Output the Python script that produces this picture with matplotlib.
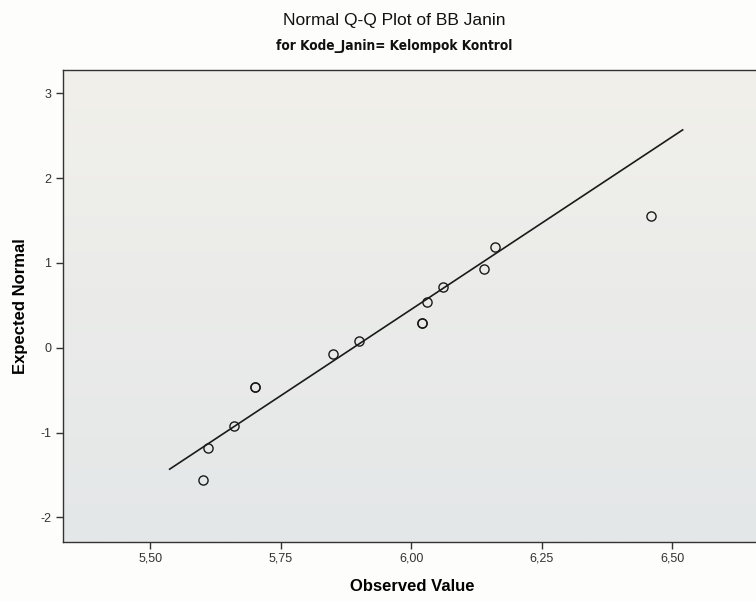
#!/usr/bin/env python3
"""Normal Q-Q plot of BB Janin for the control group (SPSS style)."""

import matplotlib as mpl

mpl.use("Agg")

import matplotlib.pyplot as plt
import numpy as np
from matplotlib.colors import LinearSegmentedColormap
from matplotlib.ticker import FuncFormatter

# observed values (kg) and their expected normal scores
observed = [5.60, 5.61, 5.66, 5.70, 5.85, 5.90, 6.02, 6.03, 6.06, 6.14, 6.16, 6.46]
expected = [-1.555, -1.184, -0.922, -0.459, -0.071, 0.078, 0.294, 0.539, 0.718, 0.929, 1.184, 1.555]
counts = [1, 1, 1, 2, 1, 1, 2, 1, 1, 1, 1, 1]

# reference line (normal fit)
line_x = [5.537, 6.520]
line_y = [-1.432, 2.568]

x_ticks = [5.50, 5.75, 6.00, 6.25, 6.50]
y_ticks = [-2, -1, 0, 1, 2, 3]

SANS = ["Liberation Sans", "DejaVu Sans"]
NARROW = ["Liberation Sans Narrow", "DejaVu Sans"]

plt.rcParams["font.family"] = SANS

fig = plt.figure(figsize=(7.56, 6.01), dpi=100, facecolor="#fdfdfb")
ax = fig.add_axes([0.0829, 0.0987, 0.925, 0.7848])

# soft vertical gradient like the SPSS chart area
grad = LinearSegmentedColormap.from_list("bg", ["#e4e7e8", "#f1f0eb"])
ax.imshow(
    np.linspace(0, 1, 256).reshape(-1, 1)[::-1],
    cmap=grad,
    extent=[0, 1, 0, 1],
    transform=ax.transAxes,
    aspect="auto",
    zorder=0,
)

ax.plot(line_x, line_y, color="#1a1a1a", lw=1.2, zorder=2)

for x, y, n in zip(observed, expected, counts):
    for _ in range(n):
        ax.plot(
            x, y, "o",
            ms=6.6, mfc="none", mec="#1a1a1a", mew=1.0, zorder=3,
        )

ax.set_xlim(5.332, 6.672)
ax.set_ylim(-2.287, 3.274)
ax.set_xticks(x_ticks)
ax.set_yticks(y_ticks)
ax.xaxis.set_major_formatter(FuncFormatter(lambda v, _: f"{v:.2f}".replace(".", ",")))
ax.yaxis.set_major_formatter(FuncFormatter(lambda v, _: f"{v:.0f}"))
ax.tick_params(
    direction="out", length=5, width=1.0, color="#333333",
    labelsize=9, labelcolor="#333333", pad=3,
)

for side in ("left", "bottom", "top"):
    ax.spines[side].set_color("#333333")
    ax.spines[side].set_linewidth(1.0)
ax.spines["right"].set_visible(False)

ax.set_xlabel("Observed Value", fontsize=12, fontweight="bold", labelpad=10)
ax.set_ylabel("Expected Normal", fontsize=12, fontweight="bold", labelpad=9)

fig.text(0.522, 0.966, "Normal Q-Q Plot of BB Janin", ha="center", va="center",
         fontsize=12.5, color="#111111")
fig.text(0.522, 0.923, "for Kode_Janin= Kelompok Kontrol", ha="center", va="center",
         fontsize=9.8, fontweight="bold", fontstretch="condensed",
         family=NARROW, color="#111111")

fig.savefig("out.png", dpi=100, facecolor=fig.get_facecolor())
